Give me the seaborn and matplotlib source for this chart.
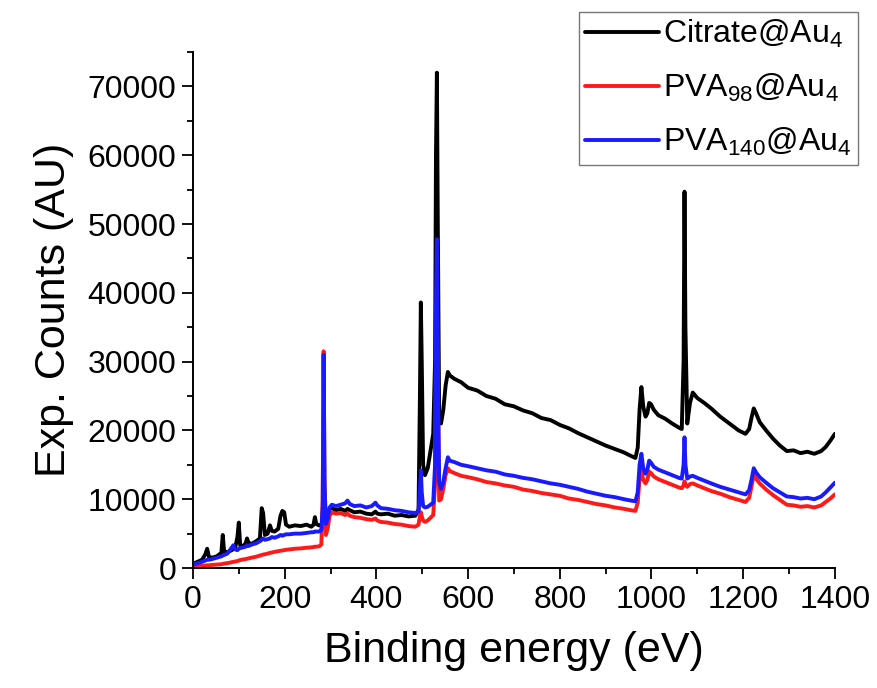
import matplotlib
matplotlib.use("Agg")
import matplotlib.pyplot as plt
import seaborn as sns
import pandas as pd
from matplotlib.ticker import MultipleLocator

energy = [0, 10, 20, 27, 31, 35, 42, 52, 62, 65, 68, 75, 85, 88, 92, 97, 100, 103, 110, 115,
          118, 121, 128, 138, 146, 150, 153, 157, 163, 168, 172, 178, 186, 191, 195, 199, 203, 210, 222, 235,
          248, 258, 263, 266, 269, 275, 280, 283, 285, 287, 290, 294, 298, 303, 312, 322, 332, 337, 342, 352,
          365, 378, 390, 398, 402, 410, 425, 440, 455, 470, 485, 492, 495, 497, 499, 502, 506, 512, 518, 524,
          528, 530, 532, 534, 537, 541, 546, 551, 556, 560, 570, 585, 600, 620, 640, 660, 680, 700, 720, 740,
          760, 780, 800, 820, 840, 860, 880, 900, 920, 940, 955, 965, 970, 974, 978, 982, 987, 991, 995, 999,
          1005, 1015, 1030, 1045, 1060, 1066, 1070, 1072, 1074, 1078, 1084, 1090, 1100, 1115, 1130, 1150, 1170, 1190, 1205, 1213,
          1218, 1223, 1228, 1236, 1250, 1265, 1280, 1295, 1310, 1325, 1340, 1355, 1370, 1380, 1390, 1400]

citrate = [600, 900, 1200, 2000, 2800, 1600, 1500, 1700, 2200, 4800, 2400, 2300, 2600, 2800, 2900, 4500, 6600, 3300, 3200, 3600,
           4300, 3700, 3500, 3900, 4300, 8700, 8000, 4800, 5000, 6200, 5400, 5300, 5700, 7600, 8300, 8100, 6300, 6000, 6200, 6100,
           6300, 6000, 6300, 7400, 6400, 6200, 6300, 7000, 9000, 7500, 6800, 7800, 8600, 8700, 8400, 8600, 8300, 8600, 8400, 8100,
           8200, 7900, 7800, 8200, 7900, 7800, 7900, 7600, 7700, 7500, 7600, 8500, 25000, 38600, 30000, 15000, 13500, 14500, 17000, 19500,
           30000, 60000, 72000, 50000, 22000, 21000, 23000, 26500, 28500, 28000, 27500, 27000, 26200, 25800, 25000, 24600, 23800, 23500, 22900, 22500,
           21800, 21500, 20800, 20300, 19600, 19000, 18400, 17800, 17300, 16800, 16300, 16000, 17500, 23000, 26300, 23500, 22000, 22500, 24000, 23800,
           23000, 22200, 21700, 21000, 20400, 20200, 30000, 54700, 35000, 21000, 24000, 25500, 24700, 24000, 23200, 22000, 21000, 20000, 19500, 20200,
           21800, 23200, 22500, 21200, 20000, 18800, 17800, 17000, 17100, 16700, 16900, 16600, 17000, 17600, 18500, 19500]

pva98 = [200, 250, 300, 350, 400, 400, 450, 500, 550, 600, 650, 700, 850, 900, 950, 1000, 1100, 1150, 1250, 1300,
         1350, 1400, 1500, 1650, 1800, 1900, 1950, 2000, 2100, 2200, 2250, 2350, 2450, 2500, 2550, 2600, 2650, 2700, 2800, 2850,
         2950, 3000, 3050, 3100, 3100, 3150, 3400, 10000, 31500, 13000, 4800, 5800, 7600, 8100, 7900, 8000, 7700, 7900, 7600, 7400,
         7300, 7100, 7000, 7200, 6900, 6700, 6600, 6400, 6300, 6100, 6000, 6300, 7600, 8100, 7500, 6900, 6700, 6900, 7300, 7700,
         12000, 30000, 42000, 25000, 9800, 10000, 11500, 13500, 14500, 14100, 13800, 13400, 13200, 12900, 12500, 12300, 12000, 11800, 11400, 11200,
         10900, 10700, 10500, 10100, 9900, 9600, 9300, 9100, 8800, 8600, 8400, 8300, 9500, 13000, 14200, 12800, 12300, 12800, 14000, 13800,
         13300, 12900, 12500, 12100, 11700, 11600, 12000, 12600, 12200, 11800, 12200, 12300, 12000, 11600, 11200, 10800, 10300, 9900, 9600, 10200,
         11800, 13500, 13000, 12300, 11400, 10600, 9900, 9200, 9100, 8900, 9000, 8800, 9100, 9600, 10100, 10700]

pva140 = [500, 700, 900, 1100, 1200, 1200, 1300, 1500, 1700, 1800, 1900, 2100, 3000, 3300, 2700, 2600, 2800, 2900, 3000, 3100,
          3300, 3200, 3400, 3600, 3900, 4100, 4300, 4100, 4200, 4300, 4500, 4400, 4600, 4800, 4700, 4800, 4900, 4900, 5000, 5000,
          5100, 5200, 5200, 5300, 5300, 5300, 5500, 9000, 31000, 12000, 6400, 7200, 8800, 9200, 9000, 9200, 9400, 9800, 9300, 9000,
          9100, 8800, 9000, 9500, 9100, 8700, 8600, 8400, 8300, 8100, 8000, 8200, 11500, 14200, 11000, 9000, 8800, 8900, 9200, 9500,
          15000, 38000, 47800, 30000, 12500, 11500, 12500, 14500, 16100, 15600, 15400, 15000, 14800, 14500, 14200, 14000, 13600, 13400, 13100, 12900,
          12600, 12300, 12100, 11800, 11500, 11100, 10800, 10500, 10300, 10000, 9800, 9700, 11000, 15000, 16600, 14500, 13700, 14300, 15600, 15300,
          14700, 14300, 13900, 13500, 13100, 13000, 15000, 19000, 15000, 13000, 13300, 13400, 13100, 12700, 12300, 11800, 11400, 11000, 10700, 11300,
          12800, 14500, 13900, 13200, 12400, 11600, 11000, 10400, 10300, 10100, 10200, 10000, 10400, 11000, 11700, 12400]

labels = ["Citrate@Au$_4$", "PVA$_{98}$@Au$_4$", "PVA$_{140}$@Au$_4$"]
colors = ["#000000", "#ff1a1a", "#1a1aff"]

frames = []
for lab, vals in zip(labels, [citrate, pva98, pva140]):
    frames.append(pd.DataFrame({"energy": energy, "counts": vals, "sample": lab}))
df = pd.concat(frames, ignore_index=True)

sns.set_style("ticks")
plt.rcParams["font.family"] = ["Liberation Sans", "DejaVu Sans"]
plt.rcParams["mathtext.fontset"] = "custom"
plt.rcParams["mathtext.rm"] = "Liberation Sans"
plt.rcParams["mathtext.it"] = "Liberation Sans"
plt.rcParams["mathtext.default"] = "regular"
plt.rcParams["text.color"] = "black"
plt.rcParams["axes.labelcolor"] = "black"
plt.rcParams["xtick.color"] = "black"
plt.rcParams["ytick.color"] = "black"

fig = plt.figure(figsize=(8.77, 6.88), dpi=100)
ax = fig.add_axes([0.22, 0.1744, 0.732, 0.75])

sns.lineplot(data=df, x="energy", y="counts", hue="sample", palette=dict(zip(labels, colors)),
             hue_order=labels, estimator=None, sort=False, linewidth=2.8, ax=ax)

ax.set_xlim(0, 1400)
ax.set_ylim(0, 75000)
ax.xaxis.set_major_locator(MultipleLocator(200))
ax.xaxis.set_minor_locator(MultipleLocator(100))
ax.yaxis.set_major_locator(MultipleLocator(10000))
ax.yaxis.set_minor_locator(MultipleLocator(5000))
ax.tick_params(axis="both", which="major", direction="out", length=8, width=1.3, labelsize=23, pad=4)
ax.tick_params(axis="both", which="minor", direction="out", length=4, width=1.3)
for s in ["top", "right"]:
    ax.spines[s].set_visible(False)
for s in ["left", "bottom"]:
    ax.spines[s].set_linewidth(1.4)
    ax.spines[s].set_color("black")

ax.set_xlabel("Binding energy (eV)", fontsize=31, labelpad=12)
ax.set_ylabel("Exp. Counts (AU)", fontsize=31, labelpad=10)

leg = ax.legend(loc="upper right", bbox_to_anchor=(858 / 877, 1 - 12 / 688),
                bbox_transform=fig.transFigure, fontsize=23, frameon=True, fancybox=False,
                handlelength=2.3, handletextpad=0.15, labelspacing=0.68, borderpad=0.2,
                borderaxespad=0, title=None)
leg.get_frame().set_edgecolor("#555555")
leg.get_frame().set_linewidth(1.0)
for line in leg.get_lines():
    line.set_linewidth(2.8)

fig.savefig("out.png", dpi=100)
